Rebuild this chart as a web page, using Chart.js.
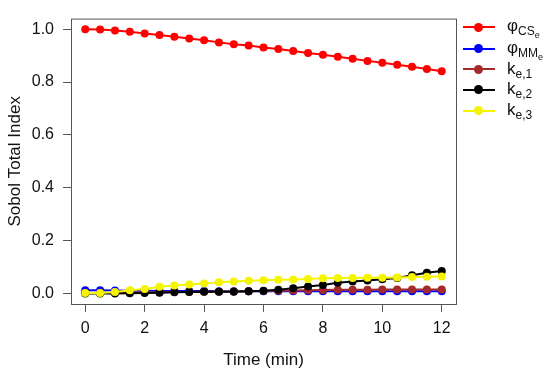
<!DOCTYPE html>
<html>
<head>
<meta charset="utf-8">
<script src="https://cdn.jsdelivr.net/npm/chart.js@4/dist/chart.umd.min.js"></script>
<style>
  body { margin: 0; background: #fff; }
  #wrap { position: relative; width: 550px; height: 375px; }
  #legend { position: absolute; left: 0; top: 0; font-family: "Liberation Sans", Arial, sans-serif; color: #111; }
  .row { position: absolute; left: 463px; height: 20px; display: flex; align-items: center; }
  .mark { position: relative; width: 32px; height: 2px; margin-right: 12px; }
  .dot { position: absolute; left: 11px; top: -3.5px; width: 9px; height: 9px; border-radius: 50%; }
  .lab { font-size: 17px; white-space: nowrap; line-height: 20px; }
  .s1 { font-size: 12px; position: relative; top: 4px; }
  .s2 { font-size: 9px; position: relative; top: 3px; }
</style>
</head>
<body>
<div id="wrap">
  <canvas id="chart" width="550" height="375"></canvas>
  <div id="legend"></div>
</div>
<script>
// data
const times = [0, 0.5, 1, 1.5, 2, 2.5, 3, 3.5, 4, 4.5, 5, 5.5, 6, 6.5, 7, 7.5, 8, 8.5, 9, 9.5, 10, 10.5, 11, 11.5, 12];
const phiCS = [1.0, 0.999, 0.995, 0.99, 0.984, 0.978, 0.971, 0.965, 0.958, 0.95, 0.943, 0.938, 0.931, 0.925, 0.917, 0.91, 0.903, 0.896, 0.888, 0.88, 0.873, 0.865, 0.858, 0.849, 0.841];
const phiMM = [0.012, 0.012, 0.011, 0.01, 0.01, 0.009, 0.009, 0.009, 0.009, 0.008, 0.008, 0.008, 0.008, 0.008, 0.008, 0.008, 0.008, 0.008, 0.008, 0.008, 0.008, 0.008, 0.008, 0.008, 0.008];
const ke1 = [0.002, 0.002, 0.003, 0.003, 0.004, 0.004, 0.005, 0.005, 0.006, 0.006, 0.007, 0.008, 0.009, 0.01, 0.011, 0.012, 0.013, 0.014, 0.014, 0.014, 0.015, 0.015, 0.015, 0.015, 0.015];
const ke2 = [0.0, 0.0, 0.0, 0.001, 0.002, 0.003, 0.004, 0.005, 0.006, 0.006, 0.006, 0.008, 0.01, 0.014, 0.02, 0.026, 0.032, 0.04, 0.045, 0.049, 0.054, 0.058, 0.069, 0.078, 0.085];
const ke3 = [0.002, 0.002, 0.005, 0.012, 0.017, 0.025, 0.03, 0.034, 0.038, 0.042, 0.045, 0.048, 0.05, 0.052, 0.053, 0.055, 0.057, 0.058, 0.058, 0.059, 0.059, 0.06, 0.062, 0.063, 0.064];

const xTicks = [0, 2, 4, 6, 8, 10, 12];
const yTicks = [0, 0.2, 0.4, 0.6, 0.8, 1.0];

// legend labels as html (subscripts); order = drawing order, last series on top
const series = [
  { label: "φ<span class='s1'>CS<span class='s2'>e</span></span>", values: phiCS, color: "#ff0000", order: 5 },
  { label: "φ<span class='s1'>MM<span class='s2'>e</span></span>", values: phiMM, color: "#0000ff", order: 4 },
  { label: "k<span class='s1'>e,1</span>", values: ke1, color: "#a52a2a", order: 3 },
  { label: "k<span class='s1'>e,2</span>", values: ke2, color: "#000000", order: 2 },
  { label: "k<span class='s1'>e,3</span>", values: ke3, color: "#f5f500", order: 1 },
];

const datasets = series.map((s) => ({
  data: s.values.map((v, i) => ({ x: times[i], y: v })),
  borderColor: s.color,
  backgroundColor: s.color,
  borderWidth: 2,
  pointRadius: 4,
  pointBorderWidth: 0,
  pointBackgroundColor: s.color,
  order: s.order,
}));

// box around the plot region
const boxPlugin = {
  id: "box",
  afterDraw(chart) {
    const { ctx, chartArea: a } = chart;
    ctx.save();
    ctx.strokeStyle = "#555";
    ctx.lineWidth = 1;
    ctx.strokeRect(a.left + 0.5, a.top + 0.5, a.right - a.left, a.bottom - a.top);
    ctx.restore();
  },
};

const font = { family: "'Liberation Sans', Arial, sans-serif" };

new Chart(document.getElementById("chart"), {
  type: "line",
  data: { datasets },
  options: {
    responsive: false,
    animation: false,
    layout: { padding: { top: 6, right: 94, left: 0, bottom: 0 } },
    plugins: { legend: { display: false }, tooltip: { enabled: false } },
    scales: {
      x: {
        type: "linear",
        min: -0.48,
        max: 12.48,
        afterBuildTicks: (s) => { s.ticks = xTicks.map((v) => ({ value: v })); },
        afterFit: (s) => { s.height = 71; },
        border: { display: false },
        grid: { drawOnChartArea: false, tickLength: 8, color: "#555" },
        ticks: { font: { ...font, size: 16 }, color: "#111", padding: 7, maxRotation: 0 },
        title: { display: true, text: "Time (min)", font: { ...font, size: 17 }, color: "#111", padding: { top: 0, bottom: 4 } },
      },
      y: {
        min: -0.04,
        max: 1.04,
        afterBuildTicks: (s) => { s.ticks = yTicks.map((v) => ({ value: v })); },
        afterFit: (s) => { s.width = 71; },
        border: { display: false },
        grid: { drawOnChartArea: false, tickLength: 8, color: "#555" },
        ticks: { font: { ...font, size: 16 }, color: "#111", padding: 9, callback: (v) => v.toFixed(1) },
        title: { display: true, text: "Sobol Total Index", font: { ...font, size: 17 }, color: "#111", padding: { top: 5, bottom: 0 } },
      },
    },
  },
  plugins: [boxPlugin],
});

// legend
const legend = document.getElementById("legend");
const rowY = [27.3, 48.5, 69.3, 89.8, 110.8];
series.forEach((s, i) => {
  const row = document.createElement("div");
  row.className = "row";
  row.style.top = (rowY[i] - 10) + "px";
  row.innerHTML = `<span class="mark" style="background:${s.color}"><span class="dot" style="background:${s.color}"></span></span><span class="lab">${s.label}</span>`;
  legend.appendChild(row);
});
</script>
</body>
</html>
